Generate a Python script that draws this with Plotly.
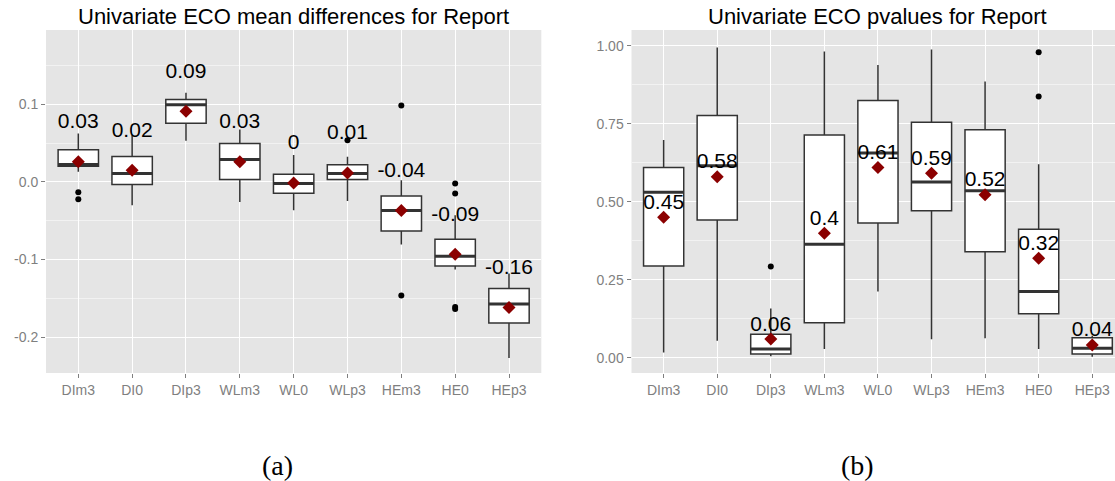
import plotly.graph_objects as go

categories = ["DIm3", "DI0", "DIp3", "WLm3", "WL0", "WLp3", "HEm3", "HE0", "HEp3"]

# Panel (a): mean differences
diff_q1 = [0.0203, -0.0034, 0.0757, 0.0031, -0.0146, 0.0031, -0.0632, -0.1084, -0.1819]
diff_median = [0.0224, 0.0108, 0.0994, 0.0289, -0.0021, 0.0108, -0.0370, -0.0959, -0.1574]
diff_q3 = [0.0413, 0.0327, 0.1063, 0.0495, 0.0099, 0.0220, -0.0181, -0.0739, -0.1376]
diff_low = [0.0129, -0.0300, 0.0530, -0.0258, -0.0365, -0.0245, -0.0808, -0.1130, -0.2270]
diff_high = [0.0625, 0.0600, 0.1150, 0.0676, 0.0345, 0.0323, 0.0020, -0.0430, -0.1180]
diff_mean = [0.0258, 0.0151, 0.0910, 0.0258, -0.0013, 0.0116, -0.0370, -0.0933, -0.1620]
diff_out_cat = ["DIm3", "DIm3", "WLp3", "HEm3", "HEm3", "HE0", "HE0", "HE0", "HE0"]
diff_out_val = [-0.0133, -0.0223, 0.0538, 0.0986, -0.1466, -0.0021, -0.0150, -0.1613, -0.1640]

# Panel (b): p-values
pval_q1 = [0.294, 0.441, 0.012, 0.112, 0.432, 0.471, 0.340, 0.141, 0.012]
pval_median = [0.530, 0.615, 0.028, 0.364, 0.656, 0.563, 0.535, 0.212, 0.030]
pval_q3 = [0.610, 0.776, 0.075, 0.714, 0.824, 0.755, 0.731, 0.412, 0.064]
pval_low = [0.017, 0.054, 0.005, 0.028, 0.212, 0.059, 0.062, 0.028, 0.003]
pval_high = [0.698, 0.994, 0.158, 0.981, 0.938, 0.988, 0.885, 0.620, 0.070]
pval_mean = [0.450, 0.580, 0.060, 0.399, 0.610, 0.591, 0.522, 0.319, 0.041]
pval_out_cat = ["DIp3", "HE0", "HE0"]
pval_out_val = [0.292, 0.979, 0.837]

diff_ticks = [-0.2, -0.1, 0.0, 0.1]
diff_ticktext = ["-0.2", "-0.1", "0.0", "0.1"]
diff_minor = [-0.15, -0.05, 0.05, 0.15]
pval_ticks = [0.0, 0.25, 0.5, 0.75, 1.0]
pval_ticktext = ["0.00", "0.25", "0.50", "0.75", "1.00"]
pval_minor = [0.125, 0.375, 0.625, 0.875]

BOX_W = 0.75
LINE = "#333333"
GREY = "#7F7F7F"
FONT = "Liberation Sans, Arial, sans-serif"
SERIF = "Liberation Serif, DejaVu Serif, serif"


def fmt(v):
    s = f"{round(v, 2):g}"
    return "0" if s in ("-0", "0") else s


pos = {c: i + 1 for i, c in enumerate(categories)}
xs = [pos[c] for c in categories]

fig = go.Figure()


def add_panel(xa, ya, q1, med, q3, lo, hi, mean, out_cat, out_val, label_dy):
    fig.add_trace(go.Box(
        x=xs, q1=q1, median=med, q3=q3, lowerfence=lo, upperfence=hi,
        width=BOX_W, whiskerwidth=0, boxpoints=False,
        fillcolor="white", line=dict(color=LINE, width=1.5),
        xaxis=xa, yaxis=ya, showlegend=False, hoverinfo="skip"))
    # thicker median bars
    mx, my = [], []
    for x, m in zip(xs, med):
        mx += [x - BOX_W / 2, x + BOX_W / 2, None]
        my += [m, m, None]
    fig.add_trace(go.Scatter(x=mx, y=my, mode="lines",
                             line=dict(color=LINE, width=3),
                             xaxis=xa, yaxis=ya, showlegend=False, hoverinfo="skip"))
    fig.add_trace(go.Scatter(x=[pos[c] for c in out_cat], y=out_val, mode="markers",
                             marker=dict(color="black", size=6),
                             xaxis=xa, yaxis=ya, showlegend=False, hoverinfo="skip"))
    fig.add_trace(go.Scatter(x=xs, y=mean, mode="markers",
                             marker=dict(color="#8B0000", size=10, symbol="diamond"),
                             xaxis=xa, yaxis=ya, showlegend=False, hoverinfo="skip"))
    fig.add_trace(go.Scatter(x=xs, y=[m + label_dy for m in mean], mode="text",
                             text=[fmt(m) for m in mean], textposition="middle center",
                             textfont=dict(family=FONT, size=21, color="black"),
                             xaxis=xa, yaxis=ya, showlegend=False, hoverinfo="skip"))


add_panel("x", "y", diff_q1, diff_median, diff_q3, diff_low, diff_high, diff_mean,
          diff_out_cat, diff_out_val, 0.05)
add_panel("x2", "y2", pval_q1, pval_median, pval_q3, pval_low, pval_high, pval_mean,
          pval_out_cat, pval_out_val, 0.044)

W, H = 1115, 481
y_dom = [1 - 373 / H, 1 - 30 / H]

xaxis_common = dict(
    tickvals=xs, ticktext=categories, showgrid=True, gridcolor="white", gridwidth=1.3,
    zeroline=False, ticks="outside", ticklen=4, tickcolor=GREY, tickwidth=1,
    tickfont=dict(family=FONT, size=14, color=GREY), showline=False,
)
yaxis_common = dict(
    showgrid=True, gridcolor="white", gridwidth=1.3, zeroline=False,
    ticks="outside", ticklen=4, tickcolor=GREY, tickwidth=1,
    tickfont=dict(family=FONT, size=14, color=GREY), showline=False,
)

fig.update_layout(
    width=W, height=H, margin=dict(l=0, r=0, t=0, b=0),
    paper_bgcolor="white", plot_bgcolor="#E5E5E5",
    xaxis=dict(domain=[46 / W, 541.3 / W], range=[0.4, 9.6], anchor="y", **xaxis_common),
    yaxis=dict(domain=y_dom, range=[-0.2464, 0.1958], anchor="x",
               tickvals=diff_ticks, ticktext=diff_ticktext,
               minor=dict(tickvals=diff_minor, showgrid=True, gridcolor="#F2F2F2",
                          gridwidth=0.6, ticks=""),
               **yaxis_common),
    xaxis2=dict(domain=[631.5 / W, 1.0], range=[0.4, 9.425], anchor="y2", **xaxis_common),
    yaxis2=dict(domain=y_dom, range=[-0.049, 1.0503], anchor="x2",
                tickvals=pval_ticks, ticktext=pval_ticktext,
                minor=dict(tickvals=pval_minor, showgrid=True, gridcolor="#F2F2F2",
                           gridwidth=0.6, ticks=""),
                **yaxis_common),
    annotations=[
        dict(text="Univariate ECO mean differences for Report", x=293.6 / W, y=1 - 17 / H,
             xref="paper", yref="paper", showarrow=False, xanchor="center", yanchor="middle",
             font=dict(family=FONT, size=22, color="black")),
        dict(text="Univariate ECO pvalues for Report", x=877.8 / W, y=1 - 17 / H,
             xref="paper", yref="paper", showarrow=False, xanchor="center", yanchor="middle",
             font=dict(family=FONT, size=22, color="black")),
        dict(text="(a)", x=277 / W, y=1 - 465 / H, xref="paper", yref="paper",
             showarrow=False, xanchor="center", yanchor="middle",
             font=dict(family=SERIF, size=28, color="black")),
        dict(text="(b)", x=857 / W, y=1 - 465 / H, xref="paper", yref="paper",
             showarrow=False, xanchor="center", yanchor="middle",
             font=dict(family=SERIF, size=28, color="black")),
    ],
)

fig.write_html("out.html")
